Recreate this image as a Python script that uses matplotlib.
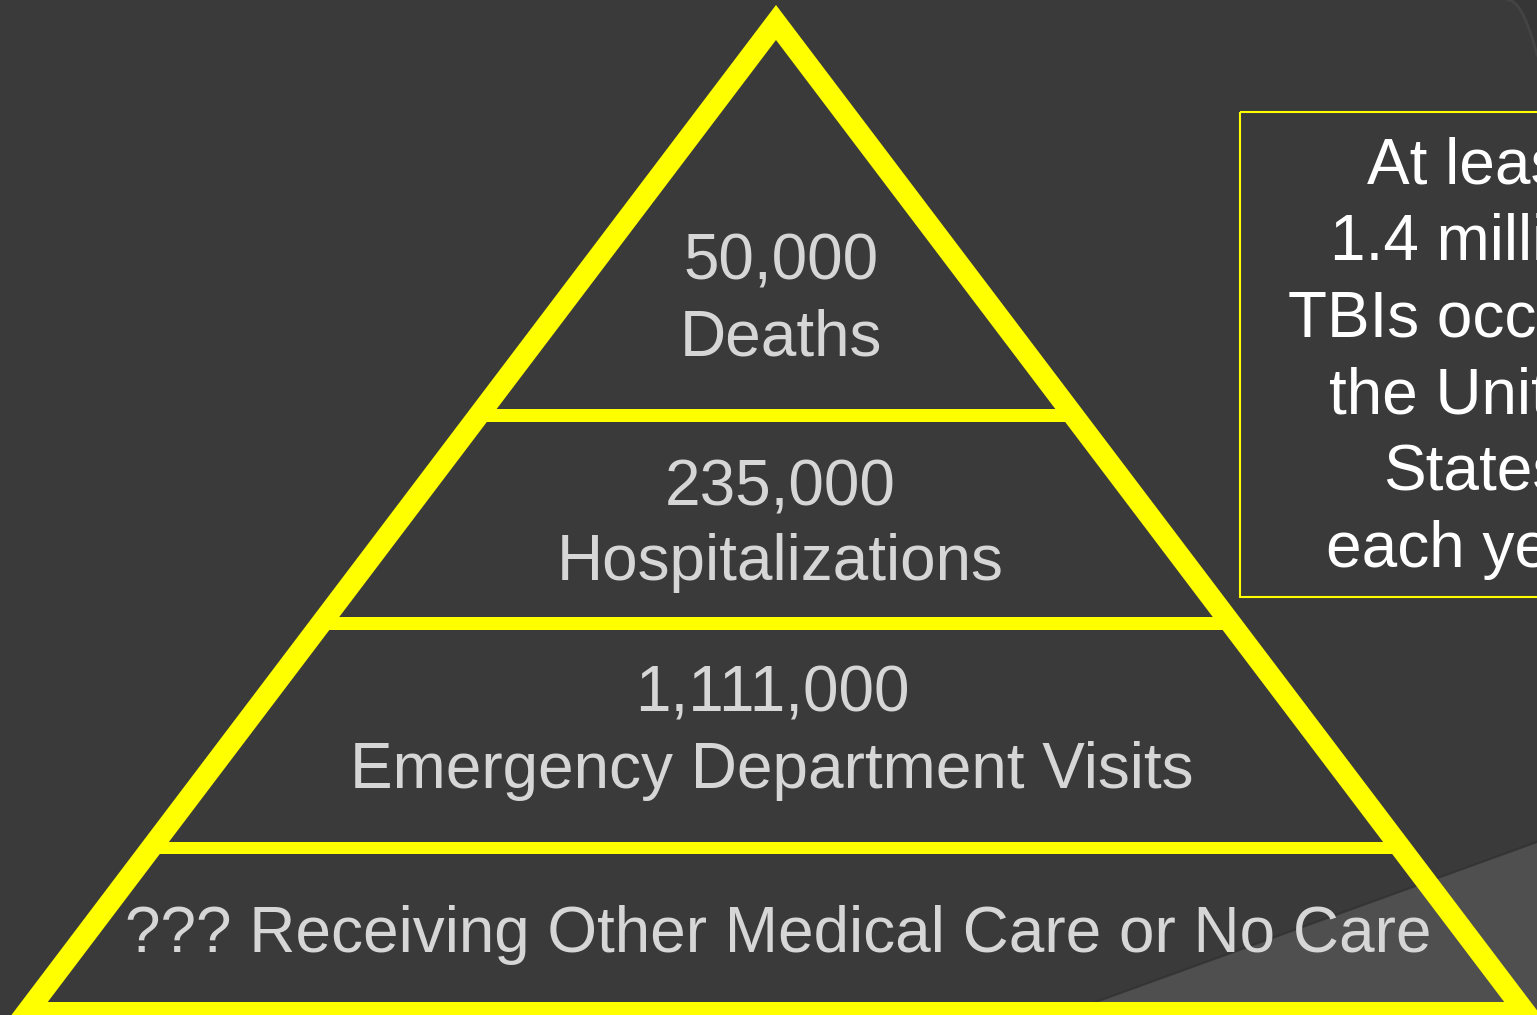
import matplotlib
matplotlib.use("Agg")
import matplotlib.pyplot as plt
import numpy as np
from matplotlib.path import Path
from matplotlib.patches import PathPatch, Polygon, Rectangle

# ---- data ----
tier_values = ["50,000", "235,000", "1,111,000", "???"]
tier_labels = ["Deaths", "Hospitalizations", "Emergency Department Visits",
               "Receiving Other Medical Care or No Care"]
callout_lines = ["At least", "1.4 million", "TBIs occur in", "the United",
                 "States", "each year."]

# ---- style / layout ----
BG = "#3a3a3a"
WEDGE = "#4f4f4f"
YELLOW = "#ffff00"
TXT = "#d6d6d6"
FONT = "Liberation Sans"
FS = 46
W, H = 1537, 1015

fig = plt.figure(figsize=(W / 100, H / 100), dpi=100, facecolor=BG)
ax = fig.add_axes([0, 0, 1, 1])
ax.set_xlim(0, W)
ax.set_ylim(H, 0)
ax.set_facecolor(BG)
ax.axis("off")

# background decoration: lighter wedge bottom-right
ax.add_patch(Polygon([(1060, 1015), (1537, 842), (1537, 1015)],
                     closed=True, facecolor=WEDGE, edgecolor="none", zorder=1))
ax.plot([1060, 1537], [1015, 842], color="#2f2f2f", lw=1.5, alpha=0.7, zorder=1.1)
# subtle arc top-right
t = np.linspace(0, 1, 30)
arc_x = 1508 + 29 * t ** 0.8
arc_y = 55 * t ** 1.6
ax.fill(np.r_[arc_x, W, W], np.r_[arc_y, 55, 0], color="#363636", zorder=1)
ax.plot(arc_x, arc_y, color="#444444", lw=2, zorder=1.1)

# pyramid geometry
apex_x = 776
outer_top = 5
inner_top = 40
slope = 0.757
base_y = 1015
tiers_y = [(inner_top, 409), (422, 617), (630, 842), (854, 1002)]


def xl(y):
    return apex_x - slope * (y - inner_top)


def xr(y):
    return apex_x + slope * (y - inner_top)


ox = slope * (base_y - outer_top)
verts = [(apex_x - ox, base_y), (apex_x, outer_top), (apex_x + ox, base_y),
         (apex_x - ox, base_y)]
codes = [Path.MOVETO, Path.LINETO, Path.LINETO, Path.CLOSEPOLY]
for (yt, yb) in tiers_y:
    verts += [(xl(yb), yb), (xr(yb), yb), (xr(yt), yt), (xl(yt), yt), (xl(yb), yb)]
    codes += [Path.MOVETO, Path.LINETO, Path.LINETO, Path.LINETO, Path.CLOSEPOLY]
ax.add_patch(PathPatch(Path(verts, codes), facecolor=YELLOW, edgecolor="none",
                       zorder=3))

# tier texts
baselines = [(280, 355), (505, 580), (712, 788)]
centers = [781, 780, 772]
for i in range(3):
    ax.text(centers[i], baselines[i][0], tier_values[i], color=TXT, fontsize=FS,
            family=FONT, ha="center", va="baseline", zorder=4)
    ax.text(centers[i], baselines[i][1], tier_labels[i], color=TXT, fontsize=FS,
            family=FONT, ha="center", va="baseline", zorder=4)
ax.text(778, 952, tier_values[3] + " " + tier_labels[3], color=TXT, fontsize=FS,
        family=FONT, ha="center", va="baseline", zorder=4)

# callout box (extends past the right edge, as in the original slide)
ax.add_patch(Rectangle((1240, 112), 420, 485, facecolor="none",
                       edgecolor=YELLOW, lw=1.5, zorder=3))
for k, line in enumerate(callout_lines):
    ax.text(1474, 183 + 76.8 * k, line, color="white", fontsize=FS, family=FONT,
            ha="center", va="baseline", zorder=4)

fig.savefig("out.png", dpi=100, facecolor=BG)
